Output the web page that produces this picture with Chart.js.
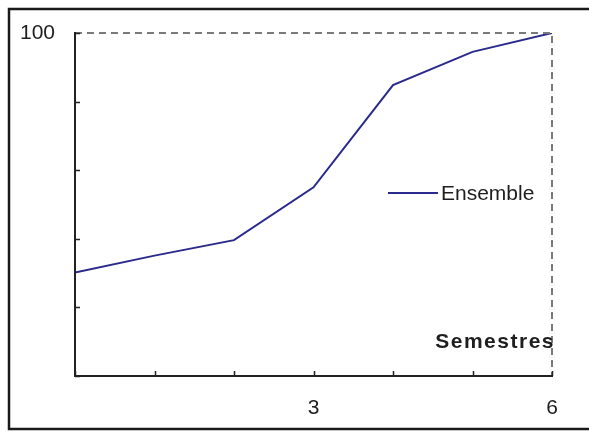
<!DOCTYPE html>
<html>
<head>
<meta charset="utf-8">
<script src="https://cdn.jsdelivr.net/npm/chart.js@4"></script>
<style>
  html, body { margin: 0; padding: 0; background: #fff; }
  #wrap { width: 589px; height: 432px; }
</style>
</head>
<body>
<div id="wrap"><canvas id="graphique" width="589" height="432"></canvas></div>
<script>
// Données
const semestres = [0, 1, 2, 3, 4, 5, 6];
const ensemble = [30.2, 35.1, 39.6, 55.0, 84.8, 94.5, 100];
const xTicks = [0, 1, 2, 3, 4, 5, 6];
const xLabels = [3, 6];
const yTicks = [0, 20, 40, 60, 80, 100];
const yLabels = [100];
const serieNom = 'Ensemble';
const titreX = 'Semestres';

const couleurLigne = '#2a2a8c';

// Axes, cadre et légende dessinés à la main avec les échelles de Chart.js
const decor = {
    id: 'decor',
    beforeDraw(chart) {
        const ctx = chart.ctx;
        ctx.save();
        ctx.fillStyle = '#fff';
        ctx.fillRect(0, 0, chart.width, chart.height);
        // cadre extérieur
        ctx.strokeStyle = '#1a1a1a';
        ctx.lineWidth = 2.5;
        ctx.beginPath();
        ctx.moveTo(600, 9);
        ctx.lineTo(9, 9);
        ctx.lineTo(9, 429);
        ctx.lineTo(600, 429);
        ctx.stroke();
        ctx.restore();
    },
    afterDatasetsDraw(chart) {
        const ctx = chart.ctx;
        const x = chart.scales.x, y = chart.scales.y;
        const left = x.getPixelForValue(0), right = x.getPixelForValue(6);
        const top = y.getPixelForValue(100), bottom = y.getPixelForValue(0);
        ctx.save();
        // pointillés haut et droite
        ctx.strokeStyle = '#7a7a7a';
        ctx.lineWidth = 2;
        ctx.setLineDash([7, 5]);
        ctx.beginPath();
        ctx.moveTo(left, top);
        ctx.lineTo(right, top);
        ctx.lineTo(right, bottom);
        ctx.stroke();
        ctx.setLineDash([]);
        // axes
        ctx.strokeStyle = '#222';
        ctx.lineWidth = 2;
        ctx.beginPath();
        ctx.moveTo(left, top - 1);
        ctx.lineTo(left, bottom);
        ctx.lineTo(right + 1, bottom);
        ctx.stroke();
        ctx.lineWidth = 1.5;
        ctx.beginPath();
        yTicks.forEach(v => {
            const py = Math.round(y.getPixelForValue(v)) + 0.5;
            ctx.moveTo(left, py);
            ctx.lineTo(left + 5, py);
        });
        xTicks.forEach(v => {
            const px = Math.round(x.getPixelForValue(v)) + 0.5;
            ctx.moveTo(px, bottom);
            ctx.lineTo(px, bottom - 5);
        });
        ctx.stroke();
        // étiquettes
        ctx.fillStyle = '#1e1e1e';
        ctx.font = '21px "Liberation Sans", Arial, sans-serif';
        ctx.textBaseline = 'middle';
        ctx.textAlign = 'right';
        yLabels.forEach(v => ctx.fillText(String(v), left - 20, y.getPixelForValue(v)));
        ctx.textAlign = 'center';
        xLabels.forEach(v => ctx.fillText(String(v), x.getPixelForValue(v), bottom + 32));
        // légende
        ctx.strokeStyle = couleurLigne;
        ctx.lineWidth = 2;
        ctx.beginPath();
        ctx.moveTo(388, 193);
        ctx.lineTo(438, 193);
        ctx.stroke();
        ctx.textAlign = 'left';
        ctx.fillText(serieNom, 441, 194);
        // titre de l'axe
        ctx.font = 'bold 21px "Liberation Sans", Arial, sans-serif';
        ctx.letterSpacing = '1.5px';
        ctx.textAlign = 'right';
        ctx.fillText(titreX, right + 3, 342);
        ctx.restore();
    }
};

const ctx = document.getElementById('graphique').getContext('2d');
const graphique = new Chart(ctx, {
    type: 'line',
    data: {
        datasets: [{
            label: serieNom,
            data: semestres.map((s, i) => ({ x: s, y: ensemble[i] })),
            borderColor: couleurLigne,
            borderWidth: 2,
            pointRadius: 0,
            tension: 0,
            fill: false
        }]
    },
    options: {
        responsive: false,
        animation: false,
        layout: { padding: { left: 75, right: 37, top: 33, bottom: 56 } },
        scales: {
            x: { type: 'linear', min: 0, max: 6, display: false },
            y: { min: 0, max: 100, display: false }
        },
        plugins: {
            legend: { display: false },
            tooltip: { enabled: false }
        }
    },
    plugins: [decor]
});
</script>
</body>
</html>
